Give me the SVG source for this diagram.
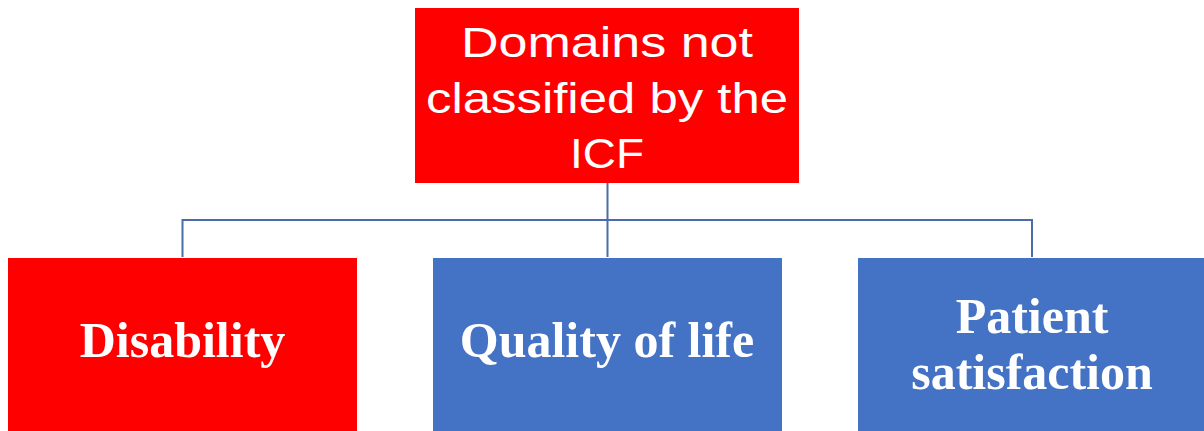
<svg xmlns="http://www.w3.org/2000/svg" width="1204" height="431" viewBox="0 0 1204 431">
  <style>
    .red { fill: #FF0000; }
    .blue { fill: #4472C4; }
    .head { font-family: "Liberation Sans", Arial, sans-serif; font-size: 43px; fill: #FFFFFF; text-anchor: middle; }
    .leaf { font-family: "Liberation Serif", "Times New Roman", serif; font-weight: bold; font-size: 50px; fill: #FFFFFF; text-anchor: middle; }
    .link { fill: none; stroke: #4A6CA8; stroke-width: 2; }
  </style>
  <rect width="1204" height="431" fill="#FFFFFF"/>

  <!-- hierarchy connectors -->
  <g id="connectors">
    <path class="link" d="M607.5 183 V257"/>
    <path class="link" d="M182.5 257 V220 H1032 V257"/>
  </g>

  <g id="root">
    <rect class="red" x="415" y="8" width="384" height="175"/>
    <text class="head" x="607" y="57" textLength="292" lengthAdjust="spacingAndGlyphs">Domains not</text>
    <text class="head" x="607" y="113" textLength="362" lengthAdjust="spacingAndGlyphs">classified by the</text>
    <text class="head" x="607" y="168" textLength="74" lengthAdjust="spacingAndGlyphs">ICF</text>
  </g>

  <g id="disability">
    <rect class="red" x="8" y="258" width="349" height="180"/>
    <text class="leaf" x="182.5" y="357">Disability</text>
  </g>

  <g id="quality-of-life">
    <rect class="blue" x="433" y="258" width="349" height="180"/>
    <text class="leaf" x="607" y="357">Quality of life</text>
  </g>

  <g id="patient-satisfaction">
    <rect class="blue" x="858" y="258" width="349" height="180"/>
    <text class="leaf" x="1032" y="333">Patient</text>
    <text class="leaf" x="1032" y="389">satisfaction</text>
  </g>
</svg>
